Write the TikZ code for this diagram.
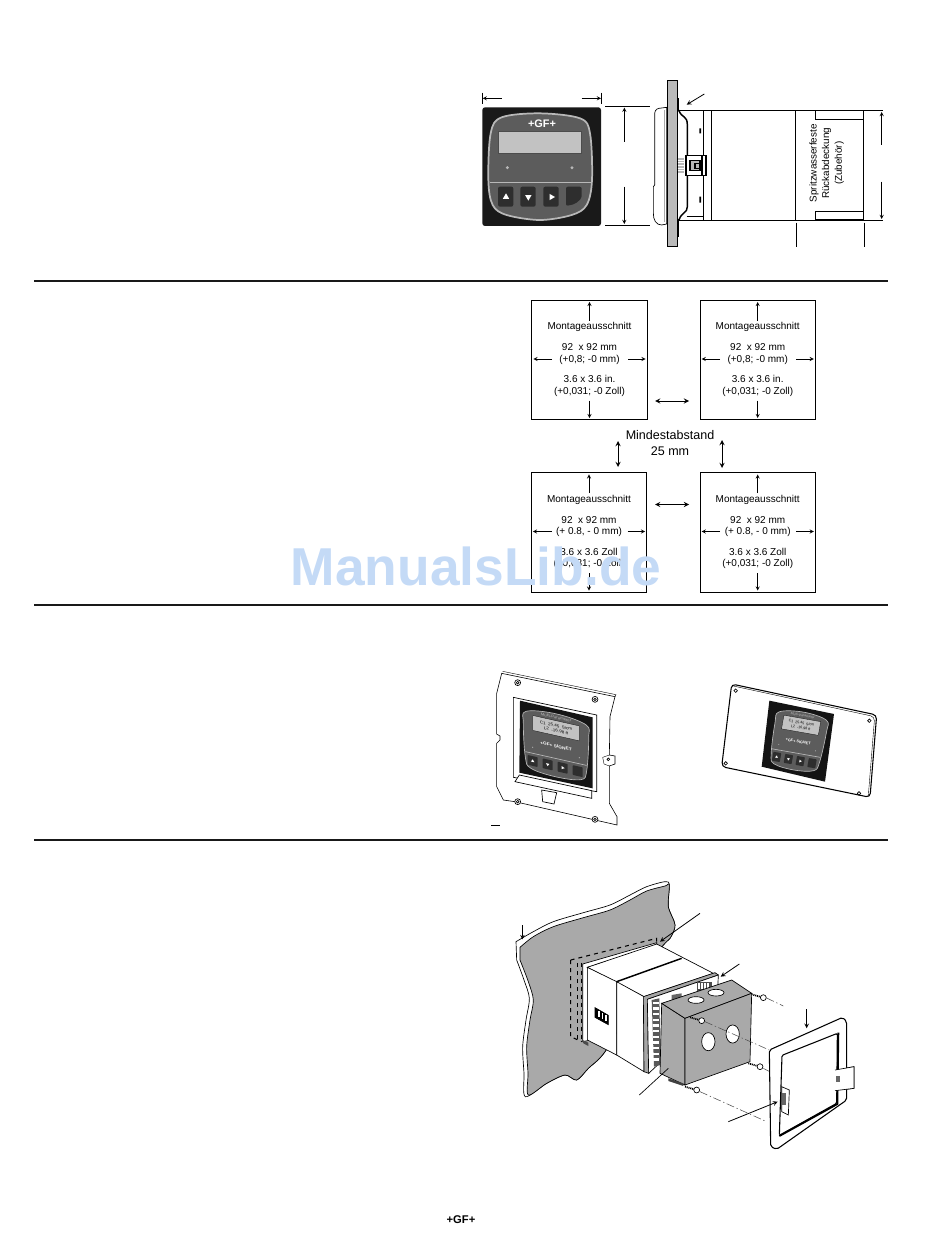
\documentclass[tikz,border=0pt]{standalone}
\usepackage{fontspec}
\setmainfont{Liberation Sans}
\usetikzlibrary{positioning,calc,arrows}
\definecolor{wallgray}{HTML}{A9A9A9}
\definecolor{platedark}{HTML}{5C5C5C}
\definecolor{platelight}{HTML}{B8B8B8}
\definecolor{keydark}{HTML}{2E2E2E}
\definecolor{lcdgray}{HTML}{C2C2C2}
\definecolor{watermarkblue}{HTML}{C4DAF6}
\tikzset{
  faceplate/.pic={
    \draw[draw=platelight, fill=platedark, line width=.5pt]
      plot[smooth cycle, tension=.6] coordinates {(-90,-95) (0,-110) (90,-95) (98,-50) (92,65) (75,100) (0,110) (-75,100) (-92,65) (-98,-50)};
    \node[transform shape, text=platelight, inner sep=0pt, font=\fontsize{3.2}{4}\selectfont] (title) at (0,-97) {Multi-Parameter};
    \node[transform shape, fill=lcdgray, draw=black, line width=.2pt, minimum width=35pt, minimum height=13pt, inner sep=0pt, align=center, font=\fontsize{3.4}{4.4}\selectfont] (lcd) at (0,-60) {C1\ \ 25.45\ \ S/cm\\L2\ \ -16.98 ft};
    \node[transform shape, text=white, inner sep=0pt, font=\fontsize{3.6}{4}\selectfont\bfseries] (brand) at (0,3) {+GF+ SIGNET};
    \fill[platelight] (-70,25) circle (.5pt) (70,25) circle (.5pt);
    \draw[platelight, line width=.5pt] (-92,46) -- (92,46);
    \foreach \kx/\kshape in {-70/180,-25/0,20/-90,65/1} {
      \fill[keydark, rounded corners=.5pt] (\kx-15,56) rectangle (\kx+15,90);
      \ifnum\kshape=1\else
        \fill[white] ($(\kx,73)+(\kshape+90:6)$) -- ($(\kx,73)+(\kshape+210:6)$) -- ($(\kx,73)+(\kshape+330:6)$) -- cycle;
      \fi
    }
  },
  plain/.style={draw=black, line width=.5pt},
  heavy/.style={draw=black, line width=1.1pt},
  leader/.style={draw=black, line width=.6pt, ->, >=stealth},
  plane/.style={plain, fill=white},
  zoomed/.style 2 args={shift={(#1,#2)}, x=.25pt, y=-.25pt}
}
\begin{document}
\begin{tikzpicture}[x=.75pt, y=-.75pt, >=stealth,
  labeltext/.style={inner sep=0pt, align=center, font=\fontsize{7.5}{8.7}\selectfont},
  cutout/.style={draw=black, line width=.6pt, minimum width=86.5pt, minimum height=89.5pt, inner sep=0pt},
  dimarrow/.style={draw=black, line width=.4pt, ->},
  gaparrow/.style={draw=black, line width=.75pt, <->},
  rulebar/.style={draw=black!90, line width=2.2pt}
  ]
  \useasboundingbox (0,0) rectangle (950,1237);

  % front view and side view
  \begin{scope}[zoomed={470}{70}]
    \node[fill=black!90, rounded corners=2pt, minimum width=89pt, minimum height=89pt, inner sep=0pt] (front) at (215,290) {};
    \draw[draw=platelight, fill=platedark, line width=1.3pt]
      plot[smooth cycle, tension=.55] coordinates {(95,142) (210,130) (330,145) (360,190) (366,330) (350,405) (305,435) (210,450) (110,435) (68,405) (55,330) (62,190)};
    \node[fill=lcdgray, draw=black!70, line width=.3pt, minimum width=62pt, minimum height=16.5pt, inner sep=0pt] (lcdbig) at (209,216) {};
    \node[text=white, inner sep=0pt, font=\fontsize{8.2}{9}\selectfont\bfseries] (gflogo) at (216,162) {+GF+};
    \draw[platelight, line width=1.2pt] (60,338) -- (364,338);
    \foreach \ledx in {112,306} \fill[platelight] (\ledx,293) circle (1.2pt);
    \foreach \kx/\kshape in {108/180,175/0,244/-90} {
      \fill[keydark, rounded corners=1.5pt] (\kx-24,350) rectangle (\kx+22,410);
      \fill[white] ($(\kx,381)+(\kshape+90:11)$) -- ($(\kx,381)+(\kshape+210:11)$) -- ($(\kx,381)+(\kshape+330:11)$) -- cycle;
    }
    \fill[keydark, rounded corners=1.5pt] (288,350) -- (335,350) -- (335,385) -- (315,402) -- (288,408) -- cycle;

    \coordinate (wl) at (38,85);  \coordinate (wla) at (95,85);
    \coordinate (wr) at (393,85); \coordinate (wra) at (335,85);
    \draw[dimarrow] (wla) -- (wl);
    \draw[dimarrow] (wra) -- (wr);
    \draw[plain] (38,68) -- (38,103) (393,68) -- (393,103);

    \draw[plain] (405,108) -- (540,108) (405,466) -- (540,466);
    \coordinate (ht) at (463,113); \coordinate (hta) at (463,215);
    \coordinate (hb) at (463,462); \coordinate (hba) at (463,350);
    \draw[dimarrow] (hta) -- (ht);
    \draw[dimarrow] (hba) -- (hb);

    \draw[plane] (621,122) rectangle (1180,452);
    \draw[plain] (620,122) -- (1240,122) (620,452) -- (1240,452);
    \draw[plain] (700,122) -- (700,452) (724,122) -- (724,452) (650,438) -- (700,438);
    \draw[heavy] (977,122) -- (977,452);
    \draw[plane, fill=white] (1037,122) rectangle (1180,147);
    \draw[plane, fill=white] (1037,423) rectangle (1180,447);
    \draw[heavy, fill=white] (627,122) .. controls (635,145) and (652,135) .. (652,165) -- (652,410) .. controls (652,430) and (635,425) .. (627,450) -- (621,450) -- (621,122) -- cycle;
    \fill[wallgray!80] (592,30) rectangle (621,530);
    \draw[plain, line width=.35pt] (592,30) rectangle (621,530);
    \draw[heavy] (625,85) -- (625,122) (625,448) -- (625,502);
    \draw[plane] (590,112) -- (567,115) .. controls (556,117) and (554,125) .. (554,135) -- (554,345) -- (550,350) -- (550,430) .. controls (550,450) and (558,465) .. (575,465) -- (590,462) -- cycle;
    \draw[plain, draw=wallgray] (582,120) -- (582,456);
    \fill[platelight] (623,265) rectangle (642,310);
    \foreach \ribY in {270,278,286,294,302} \draw[draw=white, line width=.3pt] (623,\ribY) -- (642,\ribY);
    \draw[heavy, fill=white] (648,257) rectangle (708,317);
    \draw[heavy] (648,257) rectangle (696,317);
    \draw[heavy, fill=platelight] (660,272) rectangle (690,302);
    \draw[heavy] (675,280) rectangle (690,295);
    \fill[black] (688,175) rectangle (693,190) (688,380) rectangle (693,398);
    \draw[plain] (978,458) -- (978,530) (1183,458) -- (1183,530);
    \coordinate (dt) at (1235,126); \coordinate (dta) at (1235,225);
    \coordinate (db) at (1235,447); \coordinate (dba) at (1235,335);
    \draw[dimarrow] (dta) -- (dt);
    \draw[dimarrow] (dba) -- (db);
    \coordinate (pa) at (703,72); \coordinate (pb) at (650,104);
    \draw[leader] (pa) -- (pb);
    \node[labeltext, rotate=90, font=\fontsize{7.4}{9.5}\selectfont] (coverlabel) at (1070,280) {Spritzwasserfeste\\Rückabdeckung\\(Zubehör)};
  \end{scope}

  \draw[rulebar] (34,281) -- (888,281);
  \draw[rulebar] (34,605) -- (888,605);
  \draw[rulebar] (34,840) -- (888,840);

  % the four panel cutouts
  \foreach \nm/\cx/\cy/\mmtext/\intext in {
      cutA/589.5/360/{(+0,8; -0 mm)}/{3.6 x 3.6 in.},
      cutB/757.7/360/{(+0,8; -0 mm)}/{3.6 x 3.6 in.},
      cutC/589/532.5/{(+ 0.8, - 0 mm)}/{3.6 x 3.6 Zoll},
      cutD/757.7/532.5/{(+ 0.8, - 0 mm)}/{3.6 x 3.6 Zoll}} {
    \node[cutout] (\nm) at (\cx,\cy) {};
    \node[labeltext] (\nm t) at (\cx,\cy-33) {Montageausschnitt};
    \node[labeltext] (\nm m) at (\cx,\cy-6) {92\ \ x 92 mm\\\mmtext};
    \node[labeltext] (\nm z) at (\cx,\cy+26) {\intext\\(+0,031; -0 Zoll)};
    \coordinate (\nm l) at (\cx-37.5,\cy-1);
    \coordinate (\nm r) at (\cx+38.5,\cy-1);
    \draw[dimarrow, shorten <=1pt, shorten >=1.5pt] (\nm t.north) -- (\nm.north);
    \draw[dimarrow, shorten <=3pt, shorten >=1.5pt] (\nm z.south) -- (\nm.south);
    \draw[dimarrow, shorten >=1.5pt] (\nm l) -- (\nm.west |- \nm l);
    \draw[dimarrow, shorten >=1.5pt] (\nm r) -- (\nm.east |- \nm r);
  }
  \node[labeltext, font=\fontsize{9.4}{12.6}\selectfont] (spacing) at (670,443) {Mindestabstand\\25 mm};
  \coordinate (gapTl) at (655,401);   \coordinate (gapTr) at (689,401);
  \coordinate (gapBl) at (655,504.5); \coordinate (gapBr) at (689,504.5);
  \coordinate (gapLt) at (618,441);   \coordinate (gapLb) at (618,467);
  \coordinate (gapRt) at (722,440);   \coordinate (gapRb) at (722,468);
  \draw[gaparrow] (gapTl) -- (gapTr);
  \draw[gaparrow] (gapBl) -- (gapBr);
  \draw[gaparrow] (gapLt) -- (gapLb);
  \draw[gaparrow] (gapRt) -- (gapRb);

  % mounted instruments
  \begin{scope}[zoomed={480}{660}]
    \draw[plane, line width=.45pt] (65,40) -- (405,110) -- (390,170) -- (388,285) -- (405,288) -- (405,312) -- (388,318) -- (388,430) -- (411,470) -- (411,495) -- (105,425) -- (70,420) -- (50,380) -- (50,250) -- (60,240) -- (60,228) -- (50,222) -- (50,100) -- cycle;
    \draw[plain, line width=.3pt] (68,34) -- (408,104) -- (405,110) (368,292) -- (388,285) (368,292) -- (372,312) -- (388,318);
    \draw[plain] (385,298) circle (1pt);
    \draw[plain] (100,112) -- (350,165) -- (350,395) -- (100,352) -- cycle;
    \fill[black!92] (120,122) -- (338,172) -- (338,385) -- (118,338) -- cycle;
    \draw[plain, fill=white] (118,345) -- (335,392) -- (335,415) -- (105,365) -- cycle;
    \draw[plain, fill=white] (185,390) -- (230,398) -- (222,432) -- (188,425) -- cycle;
    \foreach \hx/\hy in {113/68,345/118,113/425,345/478} {
      \draw[plain, fill=white] (\hx,\hy) circle (2.2pt);
      \draw[plain] (\hx,\hy) circle (1pt);
    }
    \pic at (228,256) [yslant=-.225, yscale=.86, transform shape] {faceplate};
    \draw[plain, line width=.8pt] (33,497) -- (60,497);

    \draw[plane, rounded corners=3pt, line width=.8pt] (755,72) -- (1190,165) -- (1170,412) -- (725,320) -- cycle;
    \draw[plain, rounded corners=3pt, line width=.3pt] (760,78) -- (1184,170) -- (1165,406);
    \fill[black!92] (868,122) -- (1062,162) -- (1035,365) -- (845,320) -- cycle;
    \foreach \hx/\hy in {767/92,1168/182,737/310,1137/400} \draw[plain, fill=white] (\hx,\hy) circle (1.3pt);
    \pic at (955,243) [rotate=-10, scale=.8, transform shape] {faceplate};
  \end{scope}

  % exploded rear cover
  \begin{scope}[zoomed={500}{870}]
    \draw[plain, fill=white] plot[smooth, tension=.5] coordinates {(48,215) (100,185) (160,155) (250,128) (330,105) (390,75) (440,50) (495,35) (508,45) (505,110) (525,165) (510,205) (480,240) (400,400) (315,545) (265,595) (230,630) (195,615) (140,640) (76,680) (72,610) (68,530) (78,450) (88,385) (72,330) (50,270)} -- cycle;
    \draw[plain, fill=wallgray] plot[smooth, tension=.5] coordinates {(60,232) (100,200) (160,170) (250,143) (330,120) (390,90) (440,63) (495,48) (508,45) (505,110) (525,165) (510,205) (480,240) (400,400) (315,545) (265,595) (230,630) (195,615) (140,640) (85,675) (84,610) (80,530) (90,450) (100,390) (85,335) (60,270)} -- cycle;
    \draw[plain, dashed, line width=.8pt] (212,270) -- (470,205) -- (470,225) (212,270) -- (212,500) -- (245,515);
    \draw[plain, dashed, line width=.8pt] (232,280) -- (232,508) (244,278) -- (244,515);

    \draw[plane] (248,282) -- (470,218) -- (470,226) -- (262,292) -- (262,512) -- (248,515) -- cycle;
    \fill[black!70] (248,510) -- (265,518) -- (265,528) -- (250,520) -- cycle;
    \draw[plane] (262,292) -- (470,222) -- (640,310) -- (432,380) -- cycle;
    \draw[plane] (262,292) -- (350,335) -- (350,555) -- (262,510) -- cycle;
    \draw[plane] (350,335) -- (432,380) -- (432,605) -- (350,555) -- cycle;
    \draw[heavy] (350,335) -- (545,265);
    \draw[plain, fill=black] (285,413) -- (325,436) -- (325,464) -- (285,442) -- cycle;
    \foreach \barx in {295,305,315} \fill[white] (\barx,\barx*.57+254) rectangle (\barx+5,\barx*.57+272);

    \draw[plain, fill=black!35] (430,380) -- (645,308) -- (655,315) -- (442,388) -- (446,610) -- (432,605) -- cycle;
    \draw[plain, fill=white] (442,388) -- (655,315) -- (650,420) -- (446,610) -- cycle;
    \fill[black!65] (455,390) -- (478,385) -- (482,585) -- (462,590) -- cycle;
    \foreach \termy in {395,412,...,575} \fill[white] (460,\termy) rectangle (476,\termy+7);
    \fill[black!70] (590,335) rectangle (635,362);
    \foreach \termx in {595,604,613,622} \fill[white] (\termx,340) rectangle (\termx+4,358);
    \fill[black!60] (515,375) -- (545,370) -- (545,385) -- (515,390) -- cycle;

    \draw[plain, fill=wallgray] (485,400) -- (555,445) -- (555,645) -- (480,610) -- cycle;
    \draw[plain, fill=wallgray] (485,400) -- (695,330) -- (755,370) -- (555,445) -- cycle;
    \draw[plain, fill=wallgray] (555,445) -- (755,370) -- (750,575) -- (555,645) -- cycle;
    \draw[plain, fill=white] (588,390) ellipse [x radius=6pt, y radius=2.5pt];
    \draw[plain, fill=white] (648,368) ellipse [x radius=6pt, y radius=2.5pt];
    \draw[plain, fill=white] (625,515) ellipse [x radius=5pt, y radius=6.8pt];
    \draw[plain, fill=white] (698,492) ellipse [x radius=5pt, y radius=6.8pt];
    \fill[black!75] (505,625) -- (550,640) -- (550,648) -- (505,633) -- cycle;

    \coordinate (dotAa) at (800,384); \coordinate (dotAb) at (850,408);
    \coordinate (dotBa) at (615,455); \coordinate (dotBb) at (808,540);
    \coordinate (dotCa) at (790,595); \coordinate (dotCb) at (815,608);
    \coordinate (dotDa) at (600,665); \coordinate (dotDb) at (800,755);
    \foreach \da/\db in {dotAa/dotAb,dotBa/dotBb,dotCa/dotCb,dotDa/dotDb}
      \draw[black!70, line width=.4pt, dash pattern=on 6pt off 2pt on 1pt off 2pt] (\da) -- (\db);
    \foreach \sx/\sy in {790/383,605/452,780/590,590/660} {
      \draw[black, line width=1.3pt, dash pattern=on .8pt off .6pt] (\sx,\sy) -- (\sx-35,\sy-10);
      \draw[plain, fill=white] (\sx,\sy) circle (2.2pt);
    }

    \draw[plain, fill=white] (1005,600) -- (1062,590) -- (1062,655) -- (1005,662) -- cycle;
    \draw[plane, line width=.8pt, rounded corners=1.5pt] (808,540) -- (1028,442) -- (1040,455) -- (1040,690) -- (830,838) -- (812,830) -- cycle;
    \draw[plain, line width=.8pt, rounded corners=1pt] (846,556) -- (1012,490) -- (1010,700) -- (838,796) -- cycle;
    \draw[heavy, line width=1.4pt] (1015,488) -- (1012,702) -- (838,798);
    \draw[plain, fill=white] (1005,600) -- (1062,590) -- (1062,655) -- (1005,662);
    \fill[black!60] (1008,618) rectangle (1020,635);
    \draw[plain, fill=white] (845,650) -- (868,660) -- (865,735) -- (845,725) -- cycle;
    \fill[black!60] (846,670) rectangle (858,705);

    \coordinate (edgea) at (67,165);   \coordinate (edgeb) at (67,208);
    \coordinate (cuta) at (600,130);   \coordinate (cutb) at (480,215);
    \coordinate (rima) at (718,282);   \coordinate (rimb) at (662,320);
    \coordinate (boxa) at (418,675);   \coordinate (boxb) at (505,595);
    \coordinate (framea) at (920,418); \coordinate (frameb) at (920,475);
    \coordinate (clipa) at (685,755);  \coordinate (clipb) at (833,695);
    \draw[leader, line width=.5pt] (edgea) -- (edgeb);
    \draw[leader] (cuta) -- (cutb);
    \draw[leader] (rima) -- (rimb);
    \draw[plain] (boxa) -- (boxb);
    \draw[leader] (framea) -- (frameb);
    \draw[leader] (clipa) -- (clipb);
  \end{scope}

  \node[inner sep=0pt, font=\fontsize{8.4}{9}\selectfont\bfseries] (footlogo) at (461,1220) {+GF+};
  \node[inner sep=0pt, text=watermarkblue, font=\fontsize{40}{42}\selectfont\bfseries] (stamp) at (476,566) {ManualsLib.de};
\end{tikzpicture}
\end{document}
